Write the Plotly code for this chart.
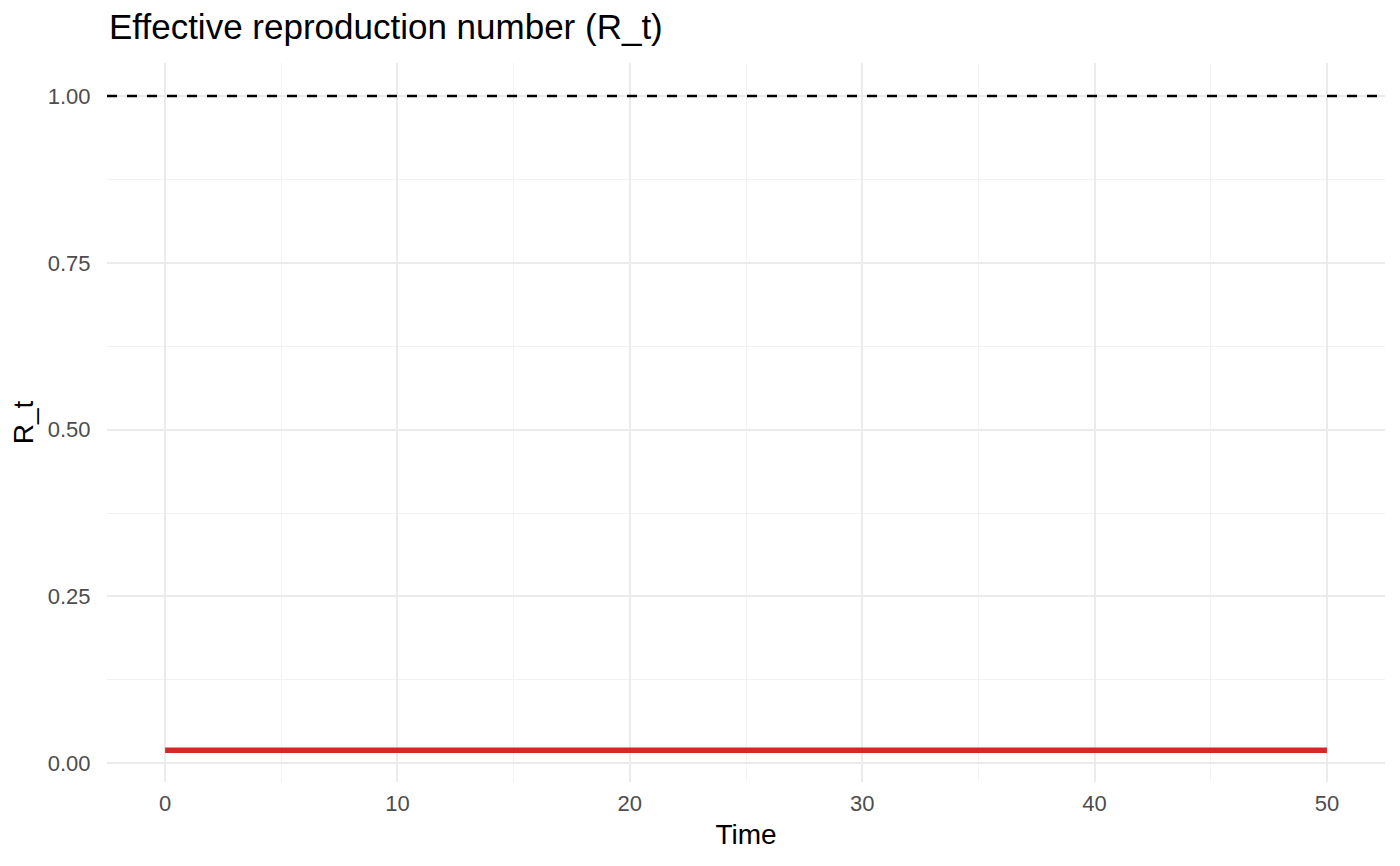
import plotly.graph_objects as go

# Data
time = [0, 1, 2, 3, 4, 5, 6, 7, 8, 9, 10, 11, 12, 13, 14, 15, 16, 17, 18, 19, 20,
        21, 22, 23, 24, 25, 26, 27, 28, 29, 30, 31, 32, 33, 34, 35, 36, 37, 38, 39, 40,
        41, 42, 43, 44, 45, 46, 47, 48, 49, 50]
r_t = [0.0195, 0.0195, 0.0195, 0.0195, 0.0195, 0.0195, 0.0195, 0.0195, 0.0195, 0.0195,
       0.0195, 0.0195, 0.0195, 0.0195, 0.0195, 0.0195, 0.0195, 0.0195, 0.0195, 0.0195,
       0.0195, 0.0195, 0.0195, 0.0195, 0.0195, 0.0195, 0.0195, 0.0195, 0.0195, 0.0195,
       0.0195, 0.0195, 0.0195, 0.0195, 0.0195, 0.0195, 0.0195, 0.0195, 0.0195, 0.0195,
       0.0195, 0.0195, 0.0195, 0.0195, 0.0195, 0.0195, 0.0195, 0.0195, 0.0195, 0.0195,
       0.0195]
threshold = 1.0
x_ticks = [0, 10, 20, 30, 40, 50]
y_ticks = [0.0, 0.25, 0.5, 0.75, 1.0]
y_tick_labels = ["0.00", "0.25", "0.50", "0.75", "1.00"]

FONT = "Liberation Sans, Arial, sans-serif"
GRID = "#EBEBEB"

# page body has an 8px default margin, so the figure is sized/offset accordingly
W, H = 1392, 858

fig = go.Figure()
fig.add_trace(go.Scatter(
    x=time, y=r_t, mode="lines",
    line=dict(color="#D62728", width=5.5),
    showlegend=False, hoverinfo="x+y",
))

fig.add_shape(type="line", xref="x domain", yref="y",
              x0=0, x1=1, y0=threshold, y1=threshold,
              line=dict(color="black", width=2.5, dash="10px,10px"))

fig.update_layout(
    width=W, height=H,
    margin=dict(l=99, r=15, t=55, b=84),
    paper_bgcolor="white", plot_bgcolor="white",
    font=dict(family=FONT, color="black"),
    title=dict(text="Effective reproduction number (R_t)",
               font=dict(size=35, color="black", family=FONT),
               x=101 / W, xanchor="left", xref="container",
               y=1 - 6 / H, yanchor="top", yref="container"),
)

fig.update_xaxes(
    range=[-2.5, 52.5], tickvals=x_ticks, ticktext=[str(v) for v in x_ticks],
    showgrid=True, gridcolor=GRID, gridwidth=2.4,
    minor=dict(dtick=5, tick0=0, showgrid=True, gridcolor="#F2F2F2", gridwidth=1.3),
    zeroline=False, showline=False,
    ticks="outside", ticklen=2, tickcolor="rgba(0,0,0,0)",
    tickfont=dict(size=22, color="#4D4D4D", family=FONT),
    title=dict(text="Time", font=dict(size=28, color="black", family=FONT), standoff=8),
)
fig.update_yaxes(
    range=[-0.028, 1.0495], tickvals=y_ticks, ticktext=y_tick_labels,
    showgrid=True, gridcolor=GRID, gridwidth=2.4,
    minor=dict(dtick=0.125, tick0=0, showgrid=True, gridcolor="#F2F2F2", gridwidth=1.3),
    zeroline=False, showline=False,
    ticks="outside", ticklen=11, tickcolor="rgba(0,0,0,0)",
    tickfont=dict(size=22, color="#4D4D4D", family=FONT),
    title=dict(text="R_t", font=dict(size=28, color="black", family=FONT), standoff=6),
)

fig.write_html("out.html")
